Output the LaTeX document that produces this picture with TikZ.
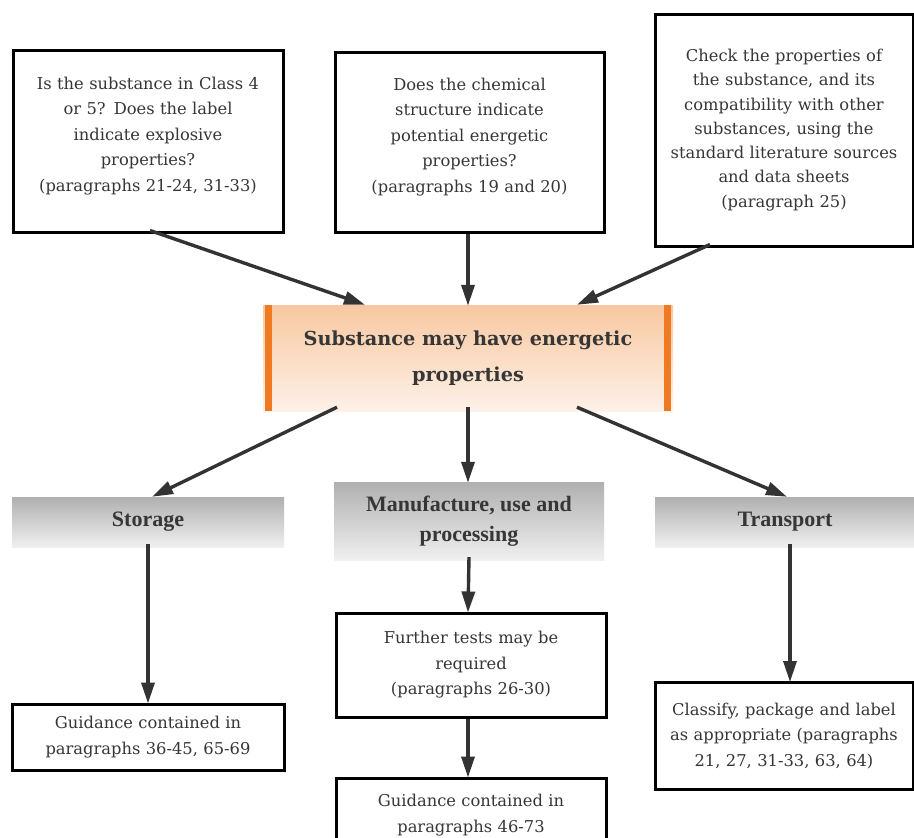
\documentclass[tikz,border=0pt]{standalone}
\usepackage{fontspec}
\setmainfont{DejaVu Serif}
\newfontfamily\headfont{Liberation Serif}
\usetikzlibrary{arrows.meta}
\definecolor{txt}{HTML}{363636}
\definecolor{arrowc}{HTML}{333333}
\definecolor{peach}{HTML}{F8C8A0}
\definecolor{peachlight}{HTML}{FDF1E8}
\definecolor{orangebar}{HTML}{EF7A22}
\tikzset{
  qbox/.style={draw=black, line width=3pt, fill=white, align=center, text=txt,
    font=\fontsize{16.3}{25.5}\selectfont, inner sep=2pt},
  headbox/.style={top color=gray!62, bottom color=gray!12, align=center, text=txt,
    font=\headfont\bfseries\fontsize{22}{30}\selectfont, inner sep=0pt},
  arr/.style={draw=arrowc, line width=3.4pt, -{Triangle[length=21pt,width=13pt]}},
}
\begin{document}
\begin{tikzpicture}[x=1pt,y=-1pt]
\useasboundingbox (0,0) rectangle (914,838);
\fill[white] (0,0) rectangle (914,838);

% top question boxes
\node[qbox, minimum width=270, minimum height=182, text width=262] (b1) at (148,141)
  {Is the substance in Class 4\\ or 5? Does the label\\ indicate explosive\\ properties?\\ (paragraphs 21-24, 31-33)\\[-12pt]\mbox{}};
\node[qbox, minimum width=269, minimum height=180, text width=262] (b2) at (469.5,142)
  {Does the chemical\\ structure indicate\\ potential energetic\\ properties?\\ (paragraphs 19 and 20)\\[-12pt]\mbox{}};
\node[qbox, minimum width=256, minimum height=232, text width=254, font=\fontsize{16.3}{24.3}\selectfont] (b3) at (784,130)
  {Check the properties of\\ the substance, and its\\ compatibility with other\\ substances, using the\\ standard literature sources\\ and data sheets\\ (paragraph 25)};

% central box
\node[top color=peach, bottom color=peachlight, minimum width=410, minimum height=106,
  align=center, text=txt, font=\bfseries\fontsize{19.3}{36}\selectfont, inner sep=0pt] (c) at (468,358)
  {Substance may have energetic\\ properties};
\fill[orangebar] ([xshift=2pt]c.north west) rectangle ([xshift=9pt]c.south west);
\fill[orangebar] ([xshift=-9pt]c.north east) rectangle ([xshift=-2pt]c.south east);

% heading boxes
\node[headbox, minimum width=272, minimum height=50] (st) at (148,522) {Storage};
\node[headbox, minimum width=270, minimum height=78] (mf) at (469,521) {Manufacture, use and\\ processing};
\node[headbox, minimum width=260, minimum height=50] (tr) at (785,522) {Transport};

% lower boxes
\node[qbox, minimum width=270, minimum height=104, text width=262] (ft) at (471,665)
  {Further tests may be\\ required\\ (paragraphs 26-30)};
\node[qbox, minimum width=272, minimum height=66, text width=262] (gs) at (148,737)
  {Guidance contained in\\ paragraphs 36-45, 65-69};
\node[qbox, minimum width=270, minimum height=74, text width=262] (gm) at (471,815)
  {Guidance contained in\\ paragraphs 46-73};
\node[qbox, minimum width=258, minimum height=107, text width=254] (cl) at (784,736)
  {Classify, package and label\\ as appropriate (paragraphs\\ 21, 27, 31-33, 63, 64)};

% arrows
\draw[arr] ([xshift=2pt,yshift=3pt]b1.south) -- ([xshift=-103pt]c.north);
\draw[arr] ([xshift=-1.5pt]b2.south) -- ([yshift=-1pt]c.north);
\draw[arr] ([xshift=-74pt,yshift=3pt]b3.south) -- ([xshift=109pt]c.north);
\draw[arr] ([xshift=-131pt,yshift=4pt]c.south) -- ([xshift=4pt]st.north);
\draw[arr] ([yshift=4pt]c.south) -- ([xshift=-1pt,yshift=-1pt]mf.north);
\draw[arr] ([xshift=109pt,yshift=4pt]c.south) -- ([xshift=2pt]tr.north);
\draw[arr] ([yshift=3pt]st.south) -- ([yshift=-1pt]gs.north);
\draw[arr] ([yshift=3pt]mf.south) -- ([xshift=-3pt,yshift=-1pt]ft.north);
\draw[arr] ([xshift=5pt,yshift=3pt]tr.south) -- ([xshift=6pt,yshift=-1pt]cl.north);
\draw[arr] ([xshift=-3pt]ft.south) -- ([xshift=-3pt,yshift=-1pt]gm.north);
\end{tikzpicture}
\end{document}
